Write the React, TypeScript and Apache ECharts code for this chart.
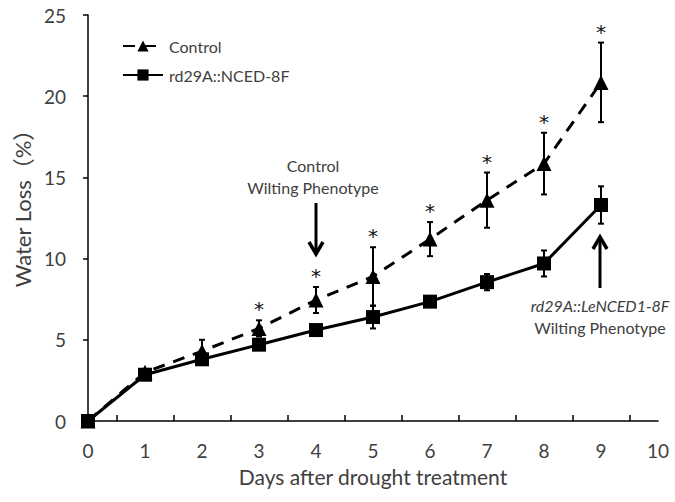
import React, { useEffect, useRef } from "react";
import * as echarts from "echarts";

const days = [0, 1, 2, 3, 4, 5, 6, 7, 8, 9];
const controlMean = [0, 3.0, 4.3, 5.7, 7.45, 8.9, 11.2, 13.6, 15.85, 20.85];
const controlErr = [0, 0.2, 0.7, 0.5, 0.8, 1.8, 1.05, 1.7, 1.9, 2.45];
const transMean = [0, 2.85, 3.8, 4.7, 5.6, 6.4, 7.35, 8.55, 9.7, 13.3];
const transErr = [0, 0.2, 0.25, 0.3, 0.3, 0.7, 0.25, 0.5, 0.8, 1.15];
const significant = [false, false, false, true, true, true, true, true, true, true];
const xTicks = [0, 1, 2, 3, 4, 5, 6, 7, 8, 9, 10];
const yTicks = [0, 5, 10, 15, 20, 25];

const FONT = "Lato, 'Noto Sans CJK SC'";
const TXT = "#404040";

export default function App() {
  const ref = useRef<HTMLDivElement>(null);
  useEffect(() => {
    if (!ref.current) return;
    const chart = echarts.init(ref.current, null, { renderer: "svg" });

    const errData = (mean: number[], err: number[]) =>
      days.map((d, i) => [d, mean[i] - err[i], mean[i] + err[i]]);

    const errSeries = (name: string, mean: number[], err: number[]) => ({
      type: "custom",
      name: name + "-err",
      z: 1,
      silent: true,
      itemStyle: { color: "#000" },
      data: errData(mean, err),
      renderItem: (params: any, api: any) => {
        const x = api.value(0);
        const lo = api.coord([x, api.value(1)]);
        const hi = api.coord([x, api.value(2)]);
        const cw = 3;
        const st = { stroke: "#000", lineWidth: 2 };
        return {
          type: "group",
          children: [
            { type: "line", shape: { x1: lo[0], y1: lo[1], x2: hi[0], y2: hi[1] }, style: st },
            { type: "line", shape: { x1: hi[0] - cw, y1: hi[1], x2: hi[0] + cw, y2: hi[1] }, style: st },
            { type: "line", shape: { x1: lo[0] - cw, y1: lo[1], x2: lo[0] + cw, y2: lo[1] }, style: st },
          ],
        };
      },
    });

    const starData = days
      .map((d, i) => [d, controlMean[i] + controlErr[i], significant[i] ? 1 : 0])
      .filter((r) => r[2] === 1);

    chart.setOption({
      animation: false,
      color: ["#000"],
      textStyle: { fontFamily: FONT },
      grid: { left: 88, right: 17, top: 15, bottom: 81, containLabel: false },
      legend: {
        orient: "vertical",
        left: 117,
        top: 33,
        itemWidth: 40,
        itemHeight: 14,
        itemGap: 13,
        textStyle: { fontFamily: FONT, fontSize: 16, color: TXT, padding: [0, 0, 0, 1] },
        data: ["Control", "rd29A::NCED-8F"],
      },
      xAxis: {
        type: "value",
        min: 0,
        max: 10,
        interval: 1,
        name: "Days after drought treatment",
        nameLocation: "middle",
        nameGap: 45,
        nameTextStyle: { fontFamily: FONT, fontSize: 21, color: TXT },
        axisLine: { lineStyle: { color: "#000", width: 1.5 } },
        axisTick: { show: false, inside: true },
        minorTick: { show: true, splitNumber: 2, length: 6, lineStyle: { color: "#000", width: 1.5 } },
        splitLine: { show: false },
        minorSplitLine: { show: false },
        axisLabel: {
          fontFamily: FONT,
          fontSize: 19,
          color: TXT,
          margin: 20,
          formatter: (v: number) => (xTicks.includes(v) ? String(v) : ""),
        },
      },
      yAxis: {
        type: "value",
        min: 0,
        max: 25,
        interval: 5,
        name: "Water Loss\uff08%\uff09",
        nameLocation: "middle",
        nameGap: 54,
        nameTextStyle: { fontFamily: FONT, fontSize: 22, color: TXT, padding: [0, 0, 0, 30] },
        axisLine: { show: true, lineStyle: { color: "#000", width: 1.5 } },
        axisTick: { show: true, length: 5, lineStyle: { color: "#000", width: 1.5 } },
        splitLine: { show: false },
        axisLabel: {
          fontFamily: FONT,
          fontSize: 19,
          color: TXT,
          margin: 22,
          formatter: (v: number) => (yTicks.includes(v) ? String(v) : ""),
        },
      },
      series: [
        errSeries("Control", controlMean, controlErr),
        errSeries("rd29A::NCED-8F", transMean, transErr),
        {
          type: "line",
          name: "Control",
          z: 3,
          data: days.map((d, i) => [d, controlMean[i]]),
          symbol: "triangle",
          symbolSize: 15,
          showAllSymbol: true,
          itemStyle: { color: "#000" },
          lineStyle: { color: "#000", width: 3, type: [12, 9] },
        },
        {
          type: "line",
          name: "rd29A::NCED-8F",
          z: 4,
          data: days.map((d, i) => [d, transMean[i]]),
          symbol: "rect",
          symbolSize: 14,
          showAllSymbol: true,
          itemStyle: { color: "#000" },
          lineStyle: { color: "#000", width: 3 },
        },
        {
          type: "custom",
          name: "stars",
          z: 5,
          silent: true,
          itemStyle: { color: "#000" },
          data: starData,
          renderItem: (params: any, api: any) => {
            const p = api.coord([api.value(0), api.value(1)]);
            return {
              type: "text",
              x: p[0],
              y: p[1] - 11,
              style: {
                text: "*",
                fontFamily: "DejaVu Sans",
                fontSize: 20,
                fill: "#111",
                align: "center",
                verticalAlign: "middle",
              },
            };
          },
        },
      ],
      graphic: [
        {
          type: "text",
          x: 313,
          y: 165,
          style: { text: "Control", fontFamily: FONT, fontSize: 16, fill: TXT, align: "center", verticalAlign: "middle" },
        },
        {
          type: "text",
          x: 313,
          y: 187,
          style: { text: "Wilting Phenotype", fontFamily: FONT, fontSize: 16, fill: TXT, align: "center", verticalAlign: "middle" },
        },
        {
          type: "line",
          shape: { x1: 316, y1: 203, x2: 316, y2: 252 },
          style: { stroke: "#000", lineWidth: 3 },
        },
        {
          type: "polyline",
          shape: { points: [[309, 242], [316, 254], [323, 242]] },
          style: { stroke: "#000", lineWidth: 3.5, fill: null },
        },
        {
          type: "line",
          shape: { x1: 600, y1: 238, x2: 600, y2: 288 },
          style: { stroke: "#000", lineWidth: 3 },
        },
        {
          type: "polyline",
          shape: { points: [[593, 249], [600, 237], [607, 249]] },
          style: { stroke: "#000", lineWidth: 3.5, fill: null },
        },
        {
          type: "text",
          x: 600,
          y: 305,
          style: {
            text: "rd29A::LeNCED1-8F",
            fontFamily: FONT,
            fontStyle: "italic",
            fontSize: 16,
            fill: TXT,
            align: "center",
            verticalAlign: "middle",
          },
        },
        {
          type: "text",
          x: 600,
          y: 327,
          style: { text: "Wilting Phenotype", fontFamily: FONT, fontSize: 16, fill: TXT, align: "center", verticalAlign: "middle" },
        },
      ],
    });
    return () => chart.dispose();
  }, []);
  return <div ref={ref} style={{ width: 675, height: 502, position: "absolute", left: 0, top: 0, background: "#fff" }} />;
}
